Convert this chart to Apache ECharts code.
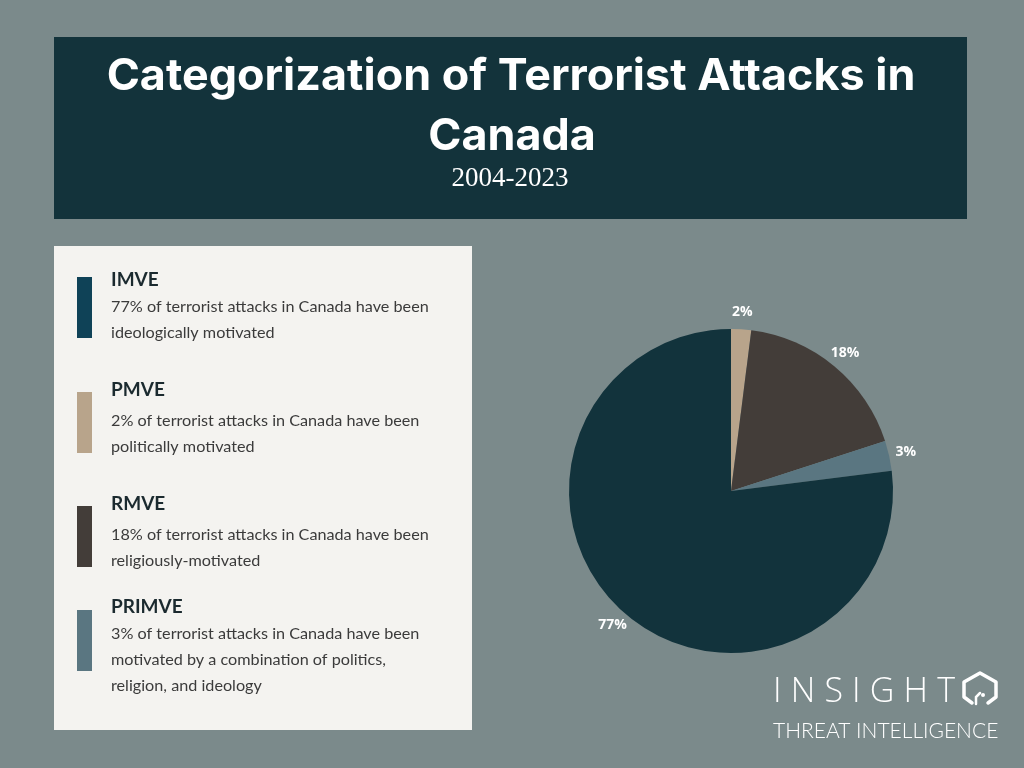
<!DOCTYPE html>
<html>
<head>
<meta charset="utf-8">
<script src="https://cdn.jsdelivr.net/npm/echarts@6/dist/echarts.min.js"></script>
<style>
html,body{margin:0;padding:0;background:#7b8a8b;}
#c{width:1024px;height:768px;}
</style>
</head>
<body>
<div id="c"></div>
<script>
const categories = ['PMVE', 'RMVE', 'PRIMVE', 'IMVE'];
const values = [2, 18, 3, 77];
const palette = ['#b8a48b', '#433d39', '#5a7681', '#12333c'];
const legendOrder = ['IMVE', 'PMVE', 'RMVE', 'PRIMVE'];
const legendBarColors = ['#0f4257', '#b8a48b', '#433d39', '#5a7681'];
const legendDescriptions = [
  ['77% of terrorist attacks in Canada have been', 'ideologically motivated'],
  ['2% of terrorist attacks in Canada have been', 'politically motivated'],
  ['18% of terrorist attacks in Canada have been', 'religiously-motivated'],
  ['3% of terrorist attacks in Canada have been', 'motivated by a combination of politics,', 'religion, and ideology']
];
const titleLines = ['Categorization of Terrorist Attacks in', 'Canada'];
const subtitle = '2004-2023';
const logoMain = 'INSIGHT';
const logoSub = 'THREAT INTELLIGENCE';

const chart = echarts.init(document.getElementById('c'));

const measureCtx = document.createElement('canvas').getContext('2d');
function spacedText(str, x, y, font, targetWidth, fill) {
  measureCtx.font = font;
  const widths = Array.from(str).map(ch => measureCtx.measureText(ch).width);
  const natural = widths.reduce((a, b) => a + b, 0);
  const gap = (targetWidth - natural) / (str.length - 1);
  const out = [];
  let cx = x;
  Array.from(str).forEach((ch, i) => {
    out.push({type:'text', x:cx, y:y, style:{text:ch, fill:fill, font:font, textVerticalAlign:'middle'}});
    cx += widths[i] + gap;
  });
  return out;
}

const legendTops = [277, 392, 506, 610];
const headingY = [280, 390, 504, 607];
const bodyStartY = [307, 421, 535, 634];
const graphic = [];
graphic.push({type:'rect', shape:{x:54,y:37,width:913,height:182}, style:{fill:'#13333b'}, z:0});
graphic.push({type:'text', x:511, y:77, scaleX:1.02, style:{text:titleLines[0], fill:'#ffffff', font:'bold 44px Inter', textAlign:'center', textVerticalAlign:'middle'}});
graphic.push({type:'text', x:512, y:137, scaleX:1.02, style:{text:titleLines[1], fill:'#ffffff', font:'bold 44px Inter', textAlign:'center', textVerticalAlign:'middle'}});
graphic.push({type:'text', x:510, y:179, style:{text:subtitle, fill:'#ffffff', font:'27px "Liberation Serif"', textAlign:'center', textVerticalAlign:'middle'}});
graphic.push({type:'rect', shape:{x:54,y:246,width:418,height:484}, style:{fill:'#f4f3f0'}, z:0});
legendOrder.forEach((name, i) => {
  graphic.push({type:'rect', shape:{x:77,y:legendTops[i],width:15,height:61}, style:{fill:legendBarColors[i]}});
  graphic.push({type:'text', x:111, y:headingY[i], style:{text:name, fill:'#1b2a2f', font:'bold 19px Lato', textVerticalAlign:'middle'}});
  legendDescriptions[i].forEach((line, j) => {
    graphic.push({type:'text', x:111, y:bodyStartY[i] + j*26, style:{text:line, fill:'#3b3b3b', font:'16.2px Lato', textVerticalAlign:'middle'}});
  });
});
// logo
spacedText(logoMain, 773, 692, '300 34px "Open Sans"', 182, '#ffffff').forEach(g => graphic.push(g));
graphic.push({type:'text', x:773, y:731, style:{text:logoSub, fill:'#ffffff', font:'300 21px Lato', textVerticalAlign:'middle'}});
graphic.push({type:'polyline', shape:{points:[[988,703],[996,697],[996,682],[980,673],[964,682],[964,697],[972,703]]}, style:{stroke:'#ffffff', lineWidth:3.5, fill:null, lineJoin:'round', lineCap:'round'}});
graphic.push({type:'polyline', shape:{points:[[976,704],[976,697],[980,693]]}, style:{stroke:'#ffffff', lineWidth:2.5, fill:null, lineCap:'round'}});
graphic.push({type:'circle', shape:{cx:983,cy:695,r:2}, style:{fill:'#ffffff'}});

const pieData = categories.map((n, i) => ({name:n, value:values[i], itemStyle:{color:palette[i]}}));

chart.setOption({
  backgroundColor:'#7b8a8b',
  animation:false,
  graphic: graphic,
  series:[
    {
      type:'pie', center:[731,491], radius:[0,162], startAngle:90, clockwise:true,
      label:{show:false}, labelLine:{show:false}, silent:true,
      data: pieData
    },
    {
      type:'pie', center:[731,491], radius:[0,352], startAngle:90, clockwise:true, silent:true,
      itemStyle:{color:'rgba(0,0,0,0)'},
      label:{show:true, position:'inside', formatter:'{c}%', color:'#ffffff', fontFamily:'Open Sans', fontWeight:'bold', fontSize:14},
      labelLine:{show:false},
      data: categories.map((n, i) => ({name:n, value:values[i], itemStyle:{color:'rgba(0,0,0,0)'}}))
    }
  ]
});
</script>
</body>
</html>
